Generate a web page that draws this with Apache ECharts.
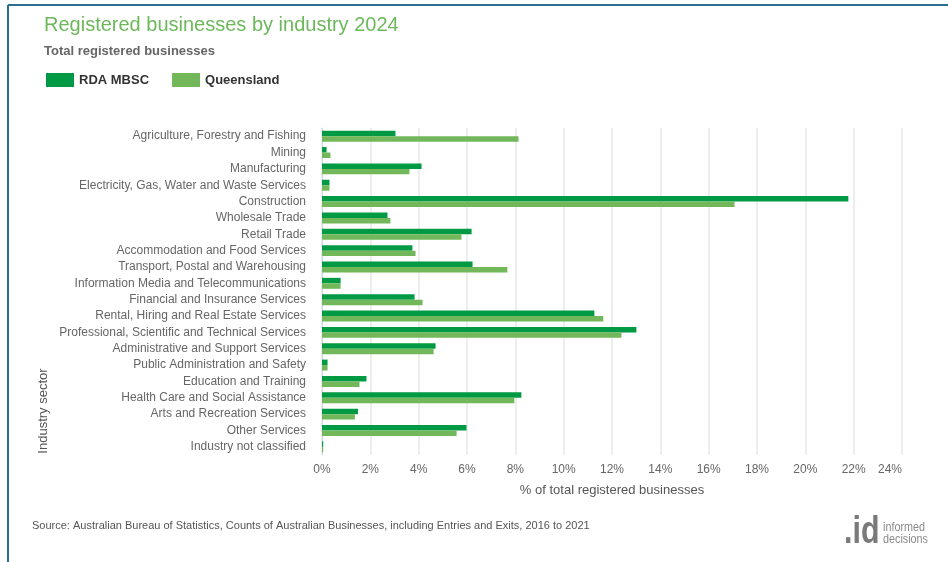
<!DOCTYPE html>
<html>
<head>
<meta charset="utf-8">
<script src="https://cdn.jsdelivr.net/npm/echarts@6/dist/echarts.min.js"></script>
<style>
  html, body { margin: 0; padding: 0; background: #fff; }
  #chart { width: 948px; height: 562px; }
</style>
</head>
<body>
<div id="chart"></div>
<script>
// Industry sectors, listed top to bottom
const categories = [
  'Agriculture, Forestry and Fishing',
  'Mining',
  'Manufacturing',
  'Electricity, Gas, Water and Waste Services',
  'Construction',
  'Wholesale Trade',
  'Retail Trade',
  'Accommodation and Food Services',
  'Transport, Postal and Warehousing',
  'Information Media and Telecommunications',
  'Financial and Insurance Services',
  'Rental, Hiring and Real Estate Services',
  'Professional, Scientific and Technical Services',
  'Administrative and Support Services',
  'Public Administration and Safety',
  'Education and Training',
  'Health Care and Social Assistance',
  'Arts and Recreation Services',
  'Other Services',
  'Industry not classified'
];

// Share of total registered businesses (%)
const rdaMbsc = [3.04, 0.19, 4.12, 0.31, 21.78, 2.71, 6.19, 3.74, 6.23, 0.77,
                 3.83, 11.27, 13.01, 4.70, 0.23, 1.84, 8.25, 1.49, 5.98, 0.05];
const queensland = [8.13, 0.35, 3.62, 0.31, 17.07, 2.83, 5.77, 3.87, 7.67, 0.77,
                    4.16, 11.64, 12.39, 4.62, 0.23, 1.55, 7.96, 1.36, 5.57, 0.05];

const seriesNames = ['RDA MBSC', 'Queensland'];
const xTicks = { min: 0, max: 24, interval: 2 };

const DARK = '#009a44';
const LIGHT = '#72b85a';
const FONT = '"Liberation Sans", Arial, sans-serif';

const chart = echarts.init(document.getElementById('chart'), null, { renderer: 'canvas' });

chart.setOption({
  backgroundColor: '#ffffff',
  animation: false,
  textStyle: { fontFamily: FONT },
  title: [
    {
      text: 'Registered businesses by industry 2024',
      left: 39, top: 10,
      textStyle: { fontFamily: FONT, fontSize: 20, fontWeight: 'normal', color: '#6cb85a' }
    },
    {
      text: 'Total registered businesses',
      left: 39, top: 40,
      textStyle: { fontFamily: FONT, fontSize: 13, fontWeight: 'bold', color: '#666666' }
    }
  ],
  legend: {
    left: 41, top: 68,
    itemWidth: 28, itemHeight: 14, itemGap: 23,
    icon: 'rect',
    data: seriesNames,
    textStyle: { fontFamily: FONT, fontSize: 13, fontWeight: 'bold', color: '#333333' }
  },
  grid: { left: 322, right: 46, top: 128, bottom: 107, containLabel: false },
  xAxis: {
    type: 'value',
    min: xTicks.min, max: xTicks.max, interval: xTicks.interval,
    name: '% of total registered businesses',
    nameLocation: 'middle',
    nameGap: 29,
    nameTextStyle: { fontFamily: FONT, fontSize: 13, color: '#555555' },
    axisLine: { show: false },
    axisTick: { show: false },
    axisLabel: {
      formatter: '{value}%',
      fontFamily: FONT, fontSize: 12, color: '#666666',
      margin: 9,
      alignMaxLabel: 'right'
    },
    splitLine: { show: true, lineStyle: { color: '#e8e8e8', width: 1.5 } }
  },
  yAxis: {
    type: 'category',
    data: categories,
    inverse: true,
    axisLine: { show: true, lineStyle: { color: '#ccd6eb', width: 1 } },
    axisTick: { show: false },
    axisLabel: { fontFamily: FONT, fontSize: 12, color: '#666666', margin: 16 },
    splitLine: { show: false }
  },
  series: [
    {
      name: seriesNames[0], type: 'bar', data: rdaMbsc,
      itemStyle: { color: DARK },
      barGap: '0%', barCategoryGap: '33%'
    },
    {
      name: seriesNames[1], type: 'bar', data: queensland,
      itemStyle: { color: LIGHT },
      barGap: '0%', barCategoryGap: '33%'
    }
  ],
  graphic: [
    // frame lines along the top and left edges
    { type: 'line', shape: { x1: 8, y1: 5, x2: 948, y2: 5 }, style: { stroke: '#2c6e8e', lineWidth: 2 } },
    { type: 'line', shape: { x1: 8, y1: 5, x2: 8, y2: 562 }, style: { stroke: '#2c6e8e', lineWidth: 2 } },
    {
      type: 'text', x: 43, y: 411, rotation: Math.PI / 2,
      style: { text: 'Industry sector', font: '13px ' + FONT, fill: '#555555', align: 'center', verticalAlign: 'middle' }
    },
    {
      type: 'text', x: 32, y: 526,
      style: {
        text: 'Source: Australian Bureau of Statistics, Counts of Australian Businesses, including Entries and Exits, 2016 to 2021',
        font: '11px ' + FONT, fill: '#555555', verticalAlign: 'middle'
      }
    },
    // logo mark
    {
      type: 'text', x: 844, y: 533, scaleX: 0.8,
      style: { text: '.id', font: 'bold 38px ' + FONT, fill: '#7a7a7a', verticalAlign: 'middle' }
    },
    {
      type: 'text', x: 883, y: 528, scaleX: 0.9,
      style: { text: 'informed', font: '12px ' + FONT, fill: '#8a8a8a', verticalAlign: 'middle' }
    },
    {
      type: 'text', x: 883, y: 540, scaleX: 0.9,
      style: { text: 'decisions', font: '12px ' + FONT, fill: '#8a8a8a', verticalAlign: 'middle' }
    }
  ]
});
</script>
</body>
</html>
